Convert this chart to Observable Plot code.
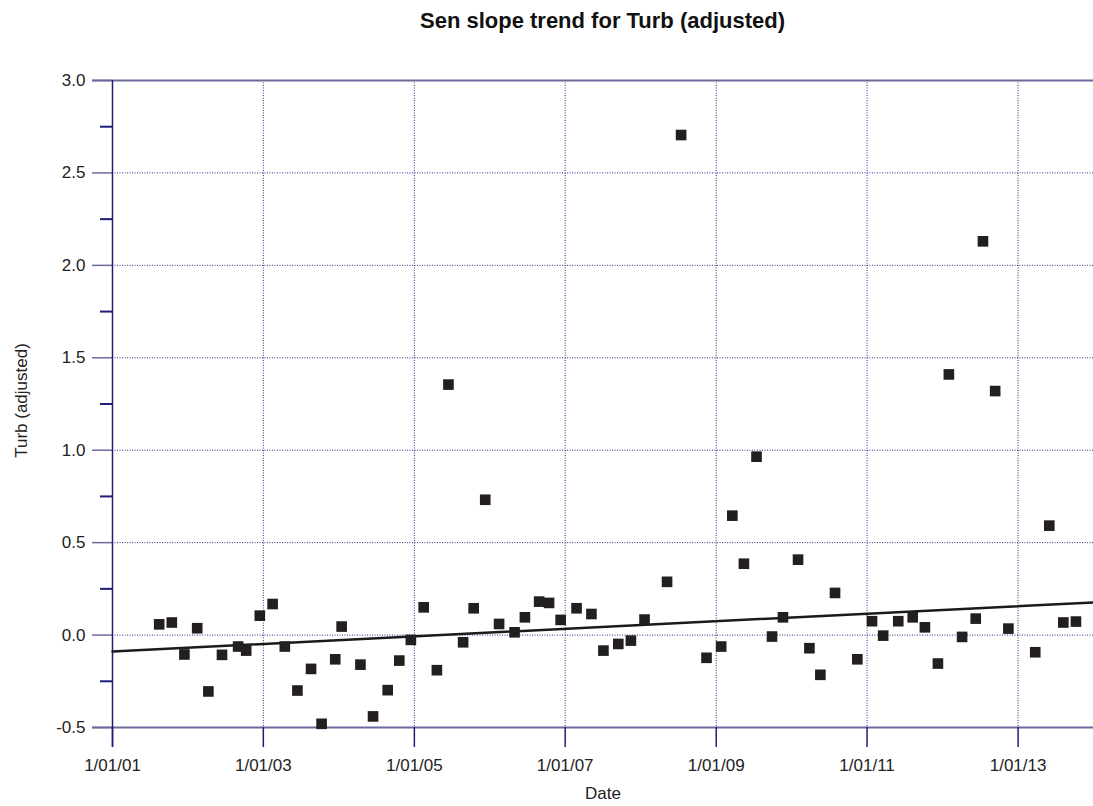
<!DOCTYPE html>
<html>
<head>
<meta charset="utf-8">
<script src="https://cdn.jsdelivr.net/npm/d3@7"></script>
<script src="https://cdn.jsdelivr.net/npm/@observablehq/plot@0.6"></script>
<style>
  html, body { margin: 0; padding: 0; background: #fff; }
  #wrap { position: relative; width: 1093px; height: 806px; font-family: "Liberation Sans", Arial, sans-serif; }
  #title { position: absolute; left: 112px; width: 981px; top: 10px; line-height: 22px; text-align: center; font-weight: bold; font-size: 22px; color: #111; }
</style>
</head>
<body>
<div id="wrap">
  <div id="chart"></div>
  <div id="title">Sen slope trend for Turb (adjusted)</div>
</div>
<script>
// Observation dates and adjusted turbidity values
const dates = [
  "2001-08-15","2001-10-15","2001-12-15","2002-02-15","2002-04-10","2002-06-15","2002-09-01","2002-10-10","2002-12-15",
  "2003-02-15","2003-04-15","2003-06-15","2003-08-20","2003-10-10","2003-12-15","2004-01-15","2004-04-15","2004-06-15",
  "2004-08-25","2004-10-20","2004-12-15","2005-02-15","2005-04-20","2005-06-15","2005-08-25","2005-10-15","2005-12-10",
  "2006-02-15","2006-05-01","2006-06-20","2006-08-28","2006-10-15","2006-12-10","2007-02-25","2007-05-08","2007-07-05",
  "2007-09-15","2007-11-15","2008-01-20","2008-05-08","2008-07-15","2008-11-15","2009-01-25","2009-03-20","2009-05-15",
  "2009-07-15","2009-09-28","2009-11-20","2010-02-01","2010-03-28","2010-05-20","2010-07-30","2010-11-15","2011-01-25",
  "2011-03-20","2011-06-01","2011-08-10","2011-10-08","2011-12-10","2012-02-01","2012-04-05","2012-06-10","2012-07-15",
  "2012-09-12","2012-11-15","2013-03-25","2013-06-01","2013-08-08","2013-10-08"
];
const values = [
  0.058, 0.068, -0.105, 0.037, -0.305, -0.107, -0.062, -0.084, 0.105,
  0.168, -0.062, -0.300, -0.183, -0.480, -0.131, 0.046, -0.160, -0.440,
  -0.298, -0.138, -0.026, 0.150, -0.190, 1.355, -0.039, 0.145, 0.732,
  0.060, 0.015, 0.096, 0.181, 0.174, 0.082, 0.145, 0.114, -0.084,
  -0.048, -0.030, 0.084, 0.288, 2.705, -0.123, -0.062, 0.646, 0.386,
  0.965, -0.008, 0.096, 0.408, -0.071, -0.215, 0.228, -0.131, 0.075,
  -0.003, 0.075, 0.096, 0.042, -0.154, 1.410, -0.010, 0.089, 2.130,
  1.320, 0.035, -0.093, 0.592, 0.068, 0.073
];
// Sen slope trend line end points
const trendDates = ["2001-01-01", "2014-01-01"];
const trendValues = [-0.089, 0.177];
// Axis ticks
const xTickDates = ["2001-01-01","2003-01-01","2005-01-01","2007-01-01","2009-01-01","2011-01-01","2013-01-01"];
const yMajor = [-0.5, 0, 0.5, 1.0, 1.5, 2.0, 2.5, 3.0];
const yMinor = [-0.25, 0.25, 0.75, 1.25, 1.75, 2.25, 2.75];

const parse = d3.utcParse("%Y-%m-%d");
const pts = dates.map((d, i) => ({date: parse(d), value: values[i]}));
const trend = trendDates.map((d, i) => ({date: parse(d), value: trendValues[i]}));
const xTicks = xTickDates.map(parse);
const xFmt = d3.utcFormat("%-d/%m/%y");
const x0 = parse("2001-01-01"), x1 = parse("2014-01-01");

const navy = "#1e1e78";
const frameCol = "#6b6b9e";
const grid = "#2a2a8a";
const textCol = "#222";

const chart = Plot.plot({
  width: 1093,
  height: 806,
  marginTop: 80,
  marginBottom: 79,
  marginLeft: 112,
  marginRight: 0,
  style: {fontFamily: "'Liberation Sans', Arial, sans-serif", fontSize: "17px", color: textCol, background: "white", overflow: "visible"},
  x: {type: "utc", domain: [x0, x1], axis: null},
  y: {domain: [-0.5, 3.0], axis: null},
  marks: [
    // dotted grid
    Plot.gridX(xTicks.slice(1), {stroke: grid, strokeOpacity: 1, strokeWidth: 1, strokeDasharray: "1,1.5"}),
    Plot.gridY(yMajor.slice(1, -1), {stroke: grid, strokeOpacity: 1, strokeWidth: 1, strokeDasharray: "1,1.5"}),
    // frame top / bottom lines
    Plot.ruleY([3.0, -0.5], {x1: x0, x2: x1, stroke: frameCol, strokeWidth: 2, insetLeft: -20}),
    // y ticks (major with labels, minor without)
    Plot.axisY(yMajor, {tickSize: 20, tickPadding: 7, stroke: frameCol, strokeWidth: 1.5, tickFormat: d => d.toFixed(1), fill: textCol, fontSize: 17, label: null}),
    Plot.axisY(yMinor, {tickSize: 12, stroke: navy, strokeWidth: 2, text: null, label: null}),
    // left axis line
    Plot.ruleX([x0], {y1: 3.0, y2: -0.5, stroke: navy, strokeWidth: 1.5, insetBottom: -20}),
    // x ticks
    Plot.axisX(xTicks, {tickSize: 20, tickPadding: 11, stroke: navy, strokeWidth: 1.5, tickFormat: d => xFmt(d), fill: textCol, fontSize: 17, label: null}),
    // trend line
    Plot.line(trend, {x: "date", y: "value", stroke: "#1a1a1a", strokeWidth: 2.5}),
    // data points
    Plot.dot(pts, {x: "date", y: "value", symbol: "square", r: 6, fill: "#231f20", stroke: "none"}),
    // axis titles
    Plot.text(["Date"], {frameAnchor: "bottom", dy: 66, fontSize: 17, fill: textCol, textAnchor: "middle", lineAnchor: "middle"}),
    Plot.text(["Turb (adjusted)"], {frameAnchor: "left", dx: -91, dy: -3.5, rotate: -90, fontSize: 17, fill: textCol, textAnchor: "middle", lineAnchor: "middle"})
  ]
});
document.getElementById("chart").appendChild(chart);
</script>
</body>
</html>
